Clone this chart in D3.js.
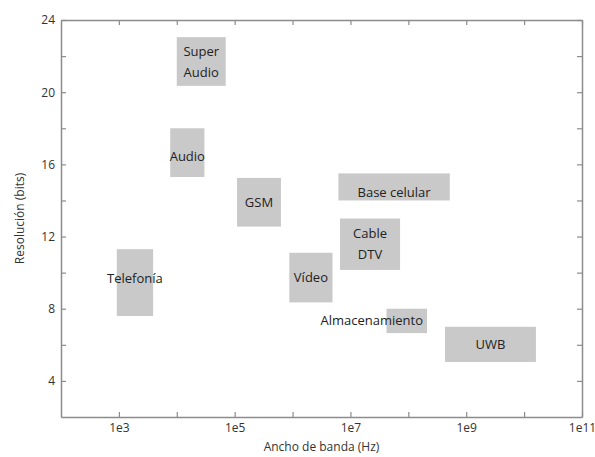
<!DOCTYPE html>
<html>
<head>
<meta charset="utf-8">
<script src="https://cdn.jsdelivr.net/npm/d3@7/dist/d3.min.js"></script>
<style>
  html, body { margin: 0; padding: 0; background: #fff; }
  svg { display: block; }
</style>
</head>
<body>
<svg id="chart" width="595" height="457"></svg>
<script>
// Applications: bandwidth range (Hz) and resolution range (bits)
const names   = ["Super Audio", "Audio", "GSM", "Telefonía", "Vídeo", "Base celular", "Cable DTV", "Almacenamiento", "UWB"];
const bwLow   = [1e4,   7.7e3, 1.1e5, 9.2e2, 8.8e5, 6.2e6, 6.6e6, 4.2e7, 4.3e8];
const bwHigh  = [7e4,   3.0e4, 6.3e5, 3.9e3, 4.9e6, 5.2e8, 7.2e7, 2.1e8, 1.6e10];
const bitsLow = [20.35, 15.3,  12.55, 7.6,   8.35,  14.0,  10.15, 6.65,  5.05];
const bitsHigh= [23.05, 18.0,  15.25, 11.3,  11.1,  15.5,  13.0,  8.0,   7.0];

const xTickValues = [1e3, 1e4, 1e5, 1e6, 1e7, 1e8, 1e9, 1e10, 1e11];
const xTickLabels = ["1e3", "", "1e5", "", "1e7", "", "1e9", "", "1e11"];
const yTickValues = [4, 6, 8, 10, 12, 14, 16, 18, 20, 22, 24];
const yTickLabels = ["4", "", "8", "", "12", "", "16", "", "20", "", "24"];

const xTitle = "Ancho de banda (Hz)";
const yTitle = "Resolución (bits)";

const svg = d3.select("#chart");
const margin = { left: 61, right: 13, top: 20, bottom: 40 };
const W = 595, H = 457;

const x = d3.scaleLog().domain([1e2, 1e11]).range([margin.left, W - margin.right]);
const y = d3.scaleLinear().domain([2, 24]).range([H - margin.bottom, margin.top]);

const axisColor = "#8c8c8c";
const textColor = "#333";
const font = "'Open Sans', 'DejaVu Sans', sans-serif";

// Boxes
const items = names.map((n, i) => ({ name: n, x0: bwLow[i], x1: bwHigh[i], y0: bitsLow[i], y1: bitsHigh[i] }));

svg.append("g").selectAll("rect").data(items).join("rect")
  .attr("x", d => x(d.x0))
  .attr("y", d => y(d.y1))
  .attr("width", d => x(d.x1) - x(d.x0))
  .attr("height", d => y(d.y0) - y(d.y1))
  .attr("fill", "#c9c9c9");

// Label placement tweaks (pixels) per box
const labelStyle = {
  "Base celular": { dy: 6 },
  "Audio": { dy: 4 },
  "Telefonía": { dy: -4 },
  "Almacenamiento": { anchor: "end", dx: -4, dy: 0 }
};

const labels = svg.append("g")
  .attr("font-family", font)
  .attr("font-size", 13)
  .attr("fill", "#222");

items.forEach(d => {
  const st = labelStyle[d.name] || {};
  const anchor = st.anchor || "middle";
  const cx = anchor === "end" ? x(d.x1) + (st.dx || 0) : (x(d.x0) + x(d.x1)) / 2;
  const cy = (y(d.y0) + y(d.y1)) / 2 + (st.dy || 0);
  let lines = [d.name];
  if (d.name === "Super Audio") lines = ["Super", "Audio"];
  if (d.name === "Cable DTV") lines = ["Cable", "DTV"];
  const lh = 21;
  lines.forEach((ln, k) => {
    labels.append("text")
      .attr("x", cx)
      .attr("y", cy + (k - (lines.length - 1) / 2) * lh)
      .attr("dy", "0.35em")
      .attr("text-anchor", anchor)
      .text(ln);
  });
});

// Axes (ticks point inward, mirrored on top and right)
const xBottom = d3.axisBottom(x).tickValues(xTickValues)
  .tickFormat((d, i) => xTickLabels[i]).tickSizeInner(-5).tickSizeOuter(0).tickPadding(6);
const xTop = d3.axisTop(x).tickValues(xTickValues)
  .tickFormat("").tickSizeInner(-5).tickSizeOuter(0);
const yLeft = d3.axisLeft(y).tickValues(yTickValues)
  .tickFormat((d, i) => yTickLabels[i]).tickSizeInner(-5).tickSizeOuter(0).tickPadding(6);
const yRight = d3.axisRight(y).tickValues(yTickValues)
  .tickFormat("").tickSizeInner(-5).tickSizeOuter(0);

function styleAxis(g) {
  g.select(".domain").attr("stroke", axisColor).attr("stroke-width", 1.5);
  g.selectAll(".tick line").attr("stroke", axisColor).attr("stroke-width", 1.2);
  g.selectAll(".tick text").attr("fill", textColor).attr("font-family", font).attr("font-size", 12);
}

svg.append("g").attr("transform", `translate(0,${H - margin.bottom})`).call(xBottom).call(styleAxis);
svg.append("g").attr("transform", `translate(0,${margin.top})`).call(xTop).call(styleAxis);
svg.append("g").attr("transform", `translate(${margin.left},0)`).call(yLeft).call(styleAxis);
svg.append("g").attr("transform", `translate(${W - margin.right},0)`).call(yRight).call(styleAxis);

// Axis titles
svg.append("text")
  .attr("x", (margin.left + W - margin.right) / 2)
  .attr("y", 451)
  .attr("text-anchor", "middle")
  .attr("font-family", font).attr("font-size", 12).attr("fill", textColor)
  .text(xTitle);

svg.append("text")
  .attr("transform", `translate(24,${(margin.top + H - margin.bottom) / 2}) rotate(-90)`)
  .attr("text-anchor", "middle")
  .attr("font-family", font).attr("font-size", 12).attr("fill", textColor)
  .text(yTitle);
</script>
</body>
</html>
